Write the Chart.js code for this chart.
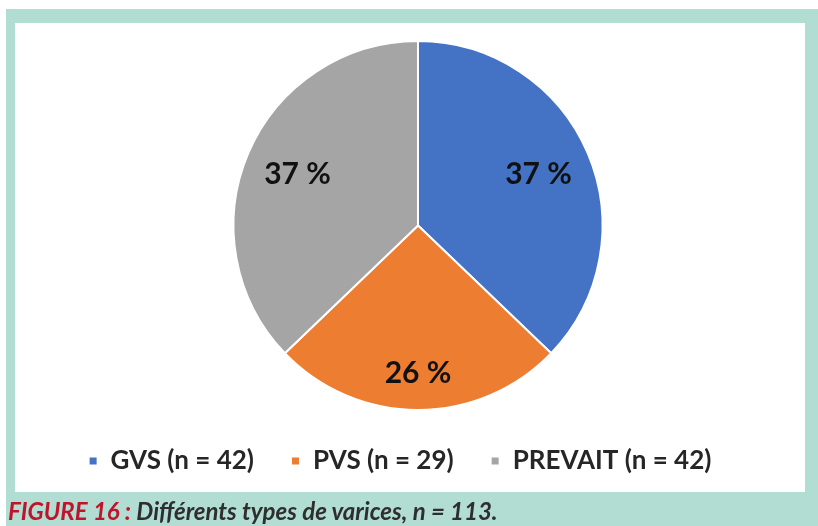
<!DOCTYPE html>
<html lang="fr">
<head>
  <meta charset="UTF-8">
  <title>Figure 16 - Types de varices</title>
  <script src="https://cdn.jsdelivr.net/npm/chart.js"></script>
  <style>
    html, body { margin: 0; padding: 0; background: #fff; }
    body { width: 818px; height: 526px; position: relative; overflow: hidden; }
    .frame { position: absolute; left: 6px; top: 9px; right: 0; bottom: 0; background: #b2ddd3; }
    .panel { position: absolute; left: 15px; top: 23px; width: 790px; height: 469px; background: #fff; }
    .caption {
      position: absolute; left: 8px; top: 496px;
      font-family: Lato, "Open Sans", sans-serif; font-style: italic; font-weight: 700;
      font-size: 24px; color: #2e2e2e; white-space: nowrap;
    }
    .caption span { color: #c0142c; }
    #chartWrap { position: absolute; left: 0; top: 0; width: 818px; height: 526px; }
  </style>
</head>
<body>
  <div class="frame"></div>
  <div class="panel"></div>
  <div id="chartWrap"><canvas id="pieChart"></canvas></div>
  <div class="caption"><span>FIGURE 16 :</span> Différents types de varices, n = 113.</div>

  <script>
    // données
    const categories = ['GVS', 'PVS', 'PREVAIT'];
    const counts = [42, 29, 42];
    const percentLabels = ['37 %', '26 %', '37 %'];
    const colors = ['#4472c4', '#ed7d31', '#a5a5a5'];

    // étiquettes de pourcentage dans les secteurs
    const sliceLabels = {
      id: 'sliceLabels',
      afterDatasetsDraw(chart, args, opts) {
        const ctx = chart.ctx;
        const arcs = chart.getDatasetMeta(0).data;
        ctx.save();
        ctx.font = 'bold 30px Lato, "Open Sans", sans-serif';
        ctx.fillStyle = '#111';
        ctx.textAlign = 'center';
        ctx.textBaseline = 'middle';
        arcs.forEach((arc, i) => {
          const p = arc.getProps(['x', 'y', 'startAngle', 'endAngle', 'outerRadius'], true);
          const mid = (p.startAngle + p.endAngle) / 2;
          const r = p.outerRadius * opts.radius[i];
          ctx.fillText(percentLabels[i], p.x + Math.cos(mid) * r, p.y + Math.sin(mid) * r);
        });
        ctx.restore();
      }
    };

    // décale la légende un peu vers la gauche comme sur l'original
    const legendShift = {
      id: 'legendShift',
      afterLayout(chart, args, opts) {
        chart.legend.left -= opts.dx;
        chart.legend.right -= opts.dx;
      }
    };

    new Chart(document.getElementById('pieChart'), {
      type: 'pie',
      data: {
        labels: categories.map((c, i) => c + ' (n = ' + counts[i] + ')'),
        datasets: [{
          data: counts,
          backgroundColor: colors,
          borderColor: '#fff',
          borderWidth: 2
        }]
      },
      options: {
        responsive: true,
        maintainAspectRatio: false,
        animation: false,
        layout: { padding: { top: 40, bottom: 42, left: 18, right: 0 } },
        plugins: {
          tooltip: { enabled: false },
          legend: {
            position: 'bottom',
            labels: {
              boxWidth: 9,
              boxHeight: 9,
              padding: 37,
              color: '#262626',
              font: { family: 'Lato, "Open Sans", sans-serif', size: 26, weight: 'bold' }
            }
          },
          sliceLabels: { radius: [0.71, 0.80, 0.71] },
          legendShift: { dx: 18 }
        }
      },
      plugins: [sliceLabels, legendShift]
    });
  </script>
</body>
</html>
